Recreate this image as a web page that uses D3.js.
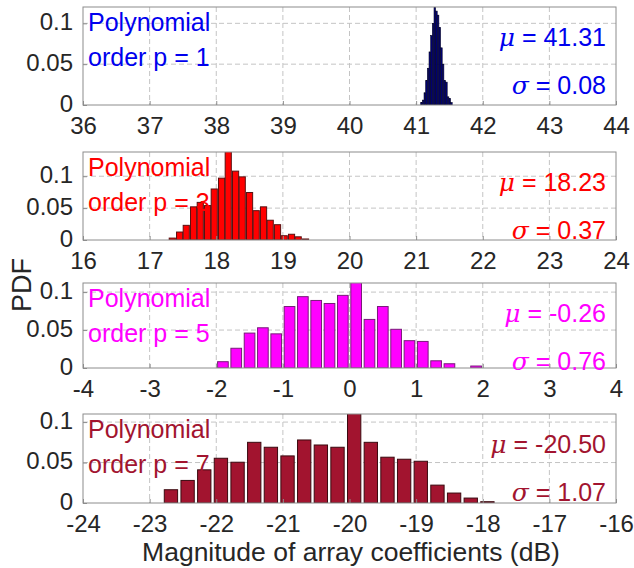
<!DOCTYPE html>
<html><head><meta charset="utf-8">
<script src="https://cdn.jsdelivr.net/npm/d3@7"></script>
<style>body{margin:0;background:#fff}svg{display:block}</style>
</head><body><svg id="c" width="634" height="568"></svg>
<script>
// ---- data ----
const p1Centers = [41.08,41.105,41.13,41.155,41.18,41.205,41.23,41.255,41.28,41.305,41.33,41.355,41.38,41.405,41.43,41.455,41.48,41.505,41.53];
const p1Values  = [0.003,0.006,0.015,0.03,0.045,0.065,0.085,0.1,0.12,0.115,0.11,0.095,0.07,0.05,0.03,0.028,0.01,0.008,0.003];
const p2Centers = [17.34,17.45,17.55,17.66,17.76,17.87,17.97,18.08,18.18,18.29,18.39,18.50,18.60,18.71,18.81,18.92,19.02,19.13,19.23,19.34];
const p2Values  = [0.003,0.0125,0.023,0.052,0.059,0.054,0.080,0.097,0.16,0.108,0.099,0.0745,0.046,0.052,0.031,0.024,0.0067,0.009,0.005,0.0016];
const p3Centers = [-1.9,-1.7,-1.5,-1.3,-1.1,-0.9,-0.7,-0.5,-0.3,-0.1,0.1,0.3,0.5,0.7,0.9,1.1,1.3,1.5,1.7,1.9];
const p3Values  = [0.0083,0.026,0.046,0.053,0.045,0.081,0.094,0.089,0.085,0.0957,0.115,0.064,0.081,0.051,0.036,0.035,0.0095,0.0056,0,0.0026];
const p4Centers = [-22.68,-22.43,-22.18,-21.93,-21.68,-21.43,-21.18,-20.93,-20.68,-20.43,-20.18,-19.93,-19.68,-19.43,-19.18,-18.93,-18.68,-18.43,-18.18,-17.93];
const p4Values  = [0.0164,0.0279,0.041,0.0553,0.0504,0.075,0.0689,0.0582,0.0779,0.0717,0.0689,0.112,0.075,0.0566,0.0541,0.0516,0.0221,0.0123,0.0061,0.0016];
const xDomains = [[36,44],[16,24],[-4,4],[-24,-16]];
const yTops = [0.12,0.138,0.112,0.11];
const binWidths = [0.025,0.105,0.2,0.25];
const orders = ["1","3","5","7"];
const muLabels = ["41.31","18.23","-0.26","-20.50"];
const sigmaLabels = ["0.08","0.37","0.76","1.07"];
const yTickValues = [0,0.05,0.1];
const yTickLabels = ["0","0.05","0.1"];
const xLabel = "Magnitude of array coefficients (dB)";
const yLabel = "PDF";

// ---- layout / style ----
const centers = [p1Centers,p2Centers,p3Centers,p4Centers];
const values = [p1Values,p2Values,p3Values,p4Values];
const L = 83, R = 616;
const tops = [7,152,283,414], bottoms = [105,240,368,503];
const fills = ["#00007a","#ff0000","#ff00ff","#a2142f"];
const strokes = ["#000020","#5a1010","#7a1a7a","#3a0a10"];
const textCols = ["#0000ee","#ff0000","#ff00ff","#a2142f"];
const barFrac = [0.9,0.88,0.8,0.8];
const fontFam = "'Liberation Sans', Arial, Helvetica, sans-serif";

const svg = d3.select("#c");
svg.append("rect").attr("width",634).attr("height",568).attr("fill","#fff");
const defs = svg.append("defs");

for (let i=0;i<4;i++){
  const x = d3.scaleLinear().domain(xDomains[i]).range([L,R]);
  const y = d3.scaleLinear().domain([0,yTops[i]]).range([bottoms[i],tops[i]]);
  const g = svg.append("g");
  defs.append("clipPath").attr("id","clip"+i).append("rect")
    .attr("x",L).attr("y",tops[i]).attr("width",R-L).attr("height",bottoms[i]-tops[i]);
  // grid
  const xt = d3.range(xDomains[i][0], xDomains[i][1]+1);
  g.selectAll(".gx").data(xt.slice(1,-1)).join("line")
    .attr("x1",d=>x(d)).attr("x2",d=>x(d)).attr("y1",tops[i]).attr("y2",bottoms[i])
    .attr("stroke","#c4c4c4").attr("stroke-dasharray","5,3").attr("stroke-width",1);
  g.selectAll(".gy").data(yTickValues.slice(1)).join("line")
    .attr("x1",L).attr("x2",R).attr("y1",d=>y(d)).attr("y2",d=>y(d))
    .attr("stroke","#c4c4c4").attr("stroke-dasharray","5,3").attr("stroke-width",1);
  // bars
  const bw = binWidths[i]*barFrac[i];
  g.append("g").attr("clip-path","url(#clip"+i+")")
    .selectAll("rect").data(centers[i].map((c,j)=>({c,v:values[i][j]}))).join("rect")
    .attr("x",d=>x(d.c-bw/2)).attr("width",d=>x(d.c+bw/2)-x(d.c-bw/2))
    .attr("y",d=>y(d.v)).attr("height",d=>y(0)-y(d.v))
    .attr("fill",fills[i]).attr("stroke",strokes[i]).attr("stroke-width",i===0?0.6:1);
  // axes
  const xa = d3.axisBottom(x).tickValues(xt).tickFormat(d=>String(d)).tickSizeInner(-4).tickSizeOuter(0).tickPadding(12);
  const gx = g.append("g").attr("transform",`translate(0,${bottoms[i]})`).call(xa);
  const ya = d3.axisLeft(y).tickValues(yTickValues).tickFormat((d,k)=>yTickLabels[k]).tickSizeInner(-4).tickSizeOuter(0).tickPadding(10);
  const gy = g.append("g").attr("transform",`translate(${L},0)`).call(ya);
  [gx,gy].forEach(a=>{
    a.select(".domain").remove();
    a.selectAll(".tick line").attr("stroke","#8c8c8c");
    a.selectAll("text").attr("fill","#262626").attr("font-size",24).attr("font-family",fontFam);
  });
  gx.selectAll("text").attr("dy","0.71em");
  gy.selectAll("text").attr("dy","0.25em");
  // box
  g.append("rect").attr("x",L).attr("y",tops[i]).attr("width",R-L).attr("height",bottoms[i]-tops[i])
    .attr("fill","none").attr("stroke","#8c8c8c").attr("stroke-width",1);
  // annotations
  const t = g.append("g").attr("fill",textCols[i]).attr("font-family",fontFam).attr("font-size",25);
  t.append("text").attr("x",L+5).attr("y",tops[i]+24).text("Polynomial");
  t.append("text").attr("x",L+5).attr("y",tops[i]+59).text("order p = "+orders[i]);
  const mu = t.append("text").attr("x",R-10).attr("y",tops[i]+39).attr("text-anchor","end");
  mu.append("tspan").attr("font-family","'DejaVu Serif', serif").attr("font-style","italic").text("μ");
  mu.append("tspan").text(" = "+muLabels[i]);
  const sg = t.append("text").attr("x",R-10).attr("y",tops[i]+87).attr("text-anchor","end");
  sg.append("tspan").attr("font-family","'DejaVu Serif', serif").attr("font-style","italic").text("σ");
  sg.append("tspan").text(" = "+sigmaLabels[i]);
}
svg.append("text").attr("x",351).attr("y",561).attr("text-anchor","middle")
  .attr("font-family",fontFam).attr("font-size",26.5).attr("fill","#262626").text(xLabel);
svg.append("text").attr("transform","translate(31,285) rotate(-90)").attr("text-anchor","middle")
  .attr("font-family",fontFam).attr("font-size",27).attr("fill","#262626").text(yLabel);
</script></body></html>
